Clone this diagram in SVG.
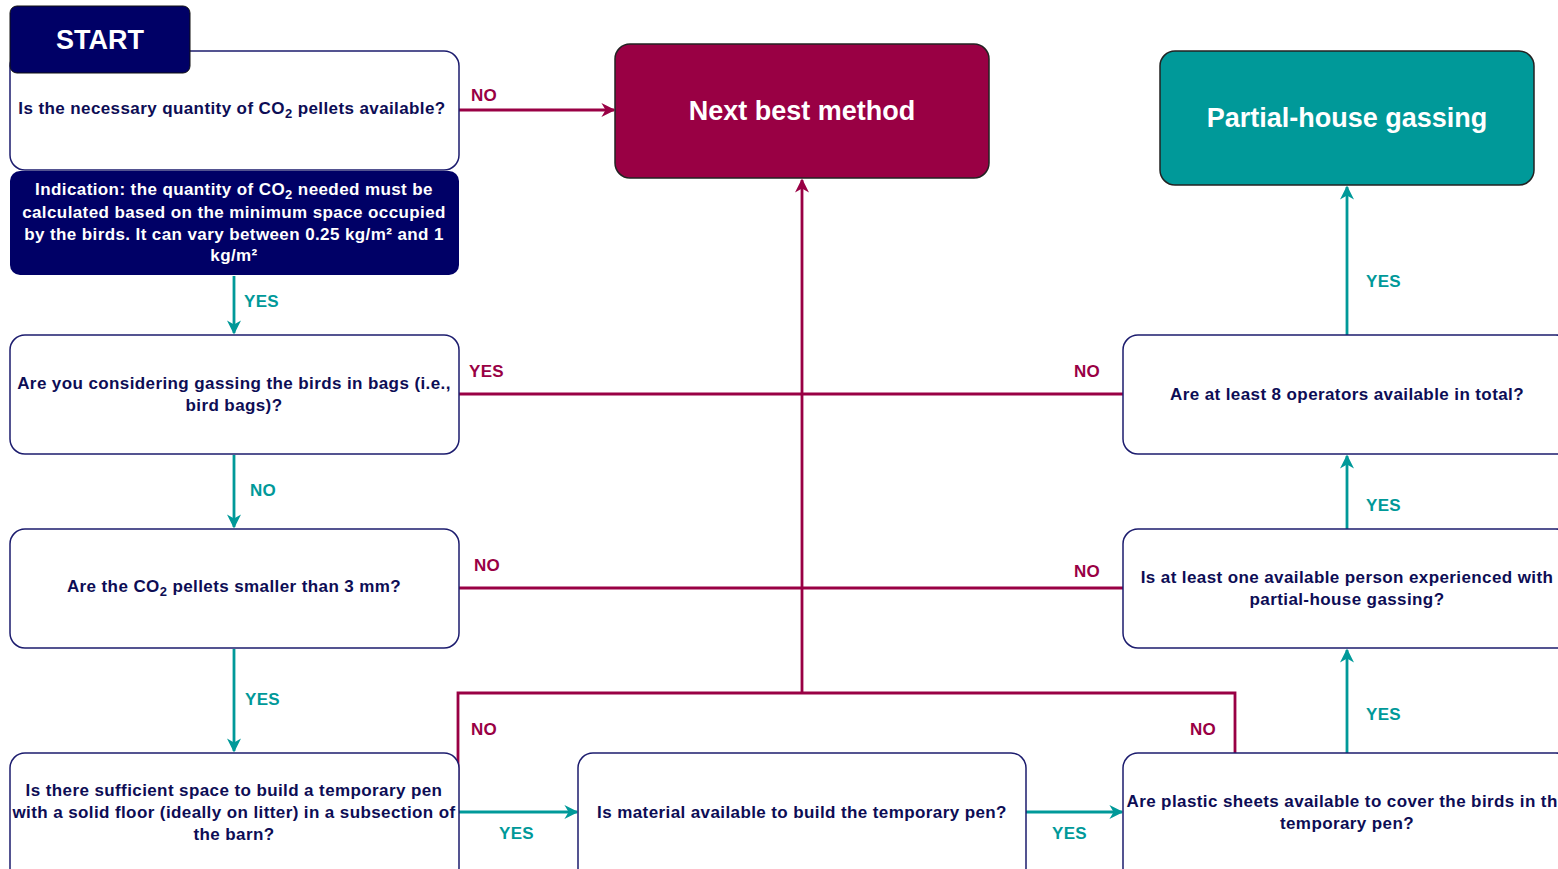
<svg xmlns="http://www.w3.org/2000/svg" width="1558" height="869" viewBox="0 0 1558 869">
<style>
.q{fill:#fff;stroke:#1c1c6e;stroke-width:1.5}
.t{font-family:"Liberation Sans",Arial,sans-serif;font-weight:bold;font-size:17px;letter-spacing:0.4px;fill:#0d0d55;text-anchor:middle}
.w{font-family:"Liberation Sans",Arial,sans-serif;font-weight:bold;font-size:17px;letter-spacing:0.4px;fill:#fff;text-anchor:middle}
.big{font-family:"Liberation Sans",Arial,sans-serif;font-weight:bold;font-size:27px;fill:#fff;text-anchor:middle}
.lr{font-family:"Liberation Sans",Arial,sans-serif;font-weight:bold;font-size:17px;letter-spacing:0.3px;fill:#990044}
.lt{font-family:"Liberation Sans",Arial,sans-serif;font-weight:bold;font-size:17px;letter-spacing:0.3px;fill:#009999}
.cr{fill:none;stroke:#990044;stroke-width:2.8}
.ct{fill:none;stroke:#009999;stroke-width:2.8}
</style>
<defs>
<marker id="ar" viewBox="0 0 10 10" refX="9" refY="5" markerWidth="17" markerHeight="14" markerUnits="userSpaceOnUse" orient="auto"><path d="M0,0 L10,5 L0,10 L3,5 Z" fill="#990044"/></marker>
<marker id="at" viewBox="0 0 10 10" refX="9" refY="5" markerWidth="17" markerHeight="14" markerUnits="userSpaceOnUse" orient="auto"><path d="M0,0 L10,5 L0,10 L3,5 Z" fill="#009999"/></marker>
</defs>
<rect width="1558" height="869" fill="#fff"/>
<g id="connectors">
<path class="cr" d="M459,110 H614" marker-end="url(#ar)"/>
<path class="cr" d="M459,394 H1123"/>
<path class="cr" d="M459,588 H1123"/>
<path class="cr" d="M458,780 V693 H1235 V753"/>
<path class="cr" d="M802,693 V180" marker-end="url(#ar)"/>
<path class="ct" d="M234,276 V333" marker-end="url(#at)"/>
<path class="ct" d="M234,455 V527" marker-end="url(#at)"/>
<path class="ct" d="M234,649 V751" marker-end="url(#at)"/>
<path class="ct" d="M459,812 H577" marker-end="url(#at)"/>
<path class="ct" d="M1026,812 H1122" marker-end="url(#at)"/>
<path class="ct" d="M1347,753 V650" marker-end="url(#at)"/>
<path class="ct" d="M1347,529 V456" marker-end="url(#at)"/>
<path class="ct" d="M1347,335 V187" marker-end="url(#at)"/>
<text class="lr" x="471" y="101">NO</text>
<text class="lr" x="469" y="377">YES</text>
<text class="lr" x="1074" y="377">NO</text>
<text class="lr" x="474" y="571">NO</text>
<text class="lr" x="1074" y="577">NO</text>
<text class="lr" x="471" y="735">NO</text>
<text class="lr" x="1190" y="735">NO</text>
<text class="lt" x="244" y="307">YES</text>
<text class="lt" x="250" y="496">NO</text>
<text class="lt" x="245" y="705">YES</text>
<text class="lt" x="499" y="839">YES</text>
<text class="lt" x="1052" y="839">YES</text>
<text class="lt" x="1366" y="720">YES</text>
<text class="lt" x="1366" y="511">YES</text>
<text class="lt" x="1366" y="287">YES</text>
</g>
<g id="q1">
<rect class="q" x="10" y="51" width="449" height="119" rx="15"/>
<text class="t" x="232" y="114">Is the necessary quantity of CO<tspan font-size="13" dy="4">2</tspan><tspan dy="-4"> pellets available?</tspan></text>
</g>
<g id="start">
<rect x="10" y="6" width="180" height="67" rx="7" fill="#000066" stroke="#111" stroke-width="1"/>
<text class="big" x="100" y="49">START</text>
</g>
<g id="indication">
<rect x="10" y="171" width="449" height="104" rx="10" fill="#000066"/>
<text class="w" x="234" y="195">Indication: the quantity of CO<tspan font-size="13" dy="4">2</tspan><tspan dy="-4"> needed must be</tspan></text>
<text class="w" x="234" y="218">calculated based on the minimum space occupied</text>
<text class="w" x="234" y="240">by the birds. It can vary between 0.25 kg/m² and 1</text>
<text class="w" x="234" y="261">kg/m²</text>
</g>
<g id="q2">
<rect class="q" x="10" y="335" width="449" height="119" rx="15"/>
<text class="t" x="234" y="389">Are you considering gassing the birds in bags (i.e.,</text>
<text class="t" x="234" y="411">bird bags)?</text>
</g>
<g id="q3">
<rect class="q" x="10" y="529" width="449" height="119" rx="15"/>
<text class="t" x="234" y="592">Are the CO<tspan font-size="13" dy="4">2</tspan><tspan dy="-4"> pellets smaller than 3 mm?</tspan></text>
</g>
<g id="q4">
<rect class="q" x="10" y="753" width="449" height="130" rx="15"/>
<text class="t" x="234" y="796">Is there sufficient space to build a temporary pen</text>
<text class="t" x="234" y="818">with a solid floor (ideally on litter) in a subsection of</text>
<text class="t" x="234" y="840">the barn?</text>
</g>
<g id="q5">
<rect class="q" x="578" y="753" width="448" height="130" rx="15"/>
<text class="t" x="802" y="818">Is material available to build the temporary pen?</text>
</g>
<g id="q6">
<rect class="q" x="1123" y="753" width="448" height="130" rx="15"/>
<text class="t" x="1347" y="807">Are plastic sheets available to cover the birds in the</text>
<text class="t" x="1347" y="829">temporary pen?</text>
</g>
<g id="q7">
<rect class="q" x="1123" y="529" width="448" height="119" rx="15"/>
<text class="t" x="1347" y="583">Is at least one available person experienced with</text>
<text class="t" x="1347" y="605">partial-house gassing?</text>
</g>
<g id="q8">
<rect class="q" x="1123" y="335" width="448" height="119" rx="15"/>
<text class="t" x="1347" y="400">Are at least 8 operators available in total?</text>
</g>
<g id="next-best">
<rect x="615" y="44" width="374" height="134" rx="15" fill="#990044" stroke="#222" stroke-width="1.5"/>
<text class="big" x="802" y="120">Next best method</text>
</g>
<g id="partial-house">
<rect x="1160" y="51" width="374" height="134" rx="15" fill="#009999" stroke="#222" stroke-width="1.5"/>
<text class="big" x="1347" y="127">Partial-house gassing</text>
</g>
</svg>
